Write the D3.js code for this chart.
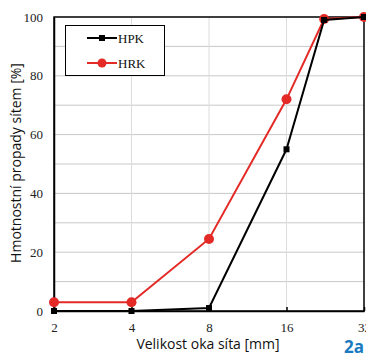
<!DOCTYPE html>
<html>
<head>
<meta charset="utf-8">
<script src="https://cdn.jsdelivr.net/npm/d3@7"></script>
<style>
  body { margin: 0; background: #fff; }
  svg { display: block; }
</style>
</head>
<body>
<div id="chart"></div>
<script>
// sieve sizes [mm] and passing [%]
const sizes = [2, 4, 8, 16, 22.4, 32];
const hpk = [0, 0, 1, 55, 99, 100];
const hrk = [3, 3, 24.5, 72, 99.3, 100];
const xTicks = [2, 4, 8, 16, 32];
const yTicks = [0, 20, 40, 60, 80, 100];
const yGrid = [10, 20, 30, 40, 50, 60, 70, 80, 90];
const seriesNames = ["HPK", "HRK"];

const width = 366, height = 354;
const plotL = 54, plotR = 364, plotT = 17, plotB = 311;

const svg = d3.select("#chart").append("svg")
  .attr("width", width)
  .attr("height", height);

const x = d3.scaleLog().base(2).domain([2, 32]).range([plotL, plotR]);
const y = d3.scaleLinear().domain([0, 100]).range([plotB, plotT]);

// grid
svg.append("g").selectAll("line")
  .data(yGrid).enter().append("line")
  .attr("x1", plotL).attr("x2", plotR)
  .attr("y1", d => y(d)).attr("y2", d => y(d))
  .attr("stroke", "#c8c8c8").attr("stroke-width", 1);

svg.append("g").selectAll("line")
  .data([4, 8, 16]).enter().append("line")
  .attr("x1", d => x(d)).attr("x2", d => x(d))
  .attr("y1", plotT).attr("y2", plotB)
  .attr("stroke", "#dcdcdc").attr("stroke-width", 1);

// frame
svg.append("rect")
  .attr("x", plotL).attr("y", plotT)
  .attr("width", plotR - plotL).attr("height", plotB - plotT)
  .attr("fill", "none").attr("stroke", "#000").attr("stroke-width", 1.5);

// axes
const xAxis = d3.axisBottom(x).tickValues(xTicks).tickFormat(d3.format("d")).tickSizeInner(-4).tickSizeOuter(0).tickPadding(12);
const gx = svg.append("g").attr("transform", `translate(0,${plotB})`).call(xAxis);
gx.select(".domain").attr("stroke", "#000").attr("stroke-width", 1.5);
gx.selectAll(".tick line").attr("stroke", "#000").attr("stroke-width", 1.5);

const yAxis = d3.axisLeft(y).tickValues(yTicks).tickSize(0).tickPadding(11);
const gy = svg.append("g").attr("transform", `translate(${plotL},0)`).call(yAxis);
gy.select(".domain").attr("stroke", "#000").attr("stroke-width", 1.5);

svg.selectAll(".tick text")
  .attr("font-family", "'Liberation Serif', 'Times New Roman', serif")
  .attr("font-size", 13)
  .attr("fill", "#222");

// axis titles
svg.append("text")
  .attr("x", 208).attr("y", 349)
  .attr("text-anchor", "middle")
  .attr("font-family", "'Open Sans', sans-serif")
  .attr("font-size", 14)
  .attr("fill", "#111")
  .text("Velikost oka síta [mm]");

svg.append("text")
  .attr("transform", `translate(21,163) rotate(-90)`)
  .attr("text-anchor", "middle")
  .attr("font-family", "'Open Sans', sans-serif")
  .attr("font-size", 14)
  .attr("fill", "#111")
  .text("Hmotnostní propady sítem [%]");

// series
const line = d3.line().x((d, i) => x(sizes[i])).y(d => y(d));
const colors = ["#000000", "#e42a27"];

svg.append("path").datum(hrk)
  .attr("d", line).attr("fill", "none")
  .attr("stroke", colors[1]).attr("stroke-width", 2);
svg.append("g").selectAll("circle")
  .data(hrk).enter().append("circle")
  .attr("cx", (d, i) => x(sizes[i])).attr("cy", d => y(d))
  .attr("r", 5).attr("fill", colors[1]);

svg.append("path").datum(hpk)
  .attr("d", line).attr("fill", "none")
  .attr("stroke", colors[0]).attr("stroke-width", 2);
svg.append("g").selectAll("rect")
  .data(hpk).enter().append("rect")
  .attr("x", (d, i) => x(sizes[i]) - 3).attr("y", d => y(d) - 3)
  .attr("width", 6).attr("height", 6).attr("fill", colors[0]);

// legend
const lg = svg.append("g");
lg.append("rect")
  .attr("x", 65.5).attr("y", 25.5).attr("width", 99).attr("height", 50)
  .attr("fill", "#fff").attr("stroke", "#000").attr("stroke-width", 1);
seriesNames.forEach((name, i) => {
  const ly = 38 + i * 25;
  lg.append("line")
    .attr("x1", 87).attr("x2", 117).attr("y1", ly).attr("y2", ly)
    .attr("stroke", colors[i]).attr("stroke-width", 2);
  if (i === 0) {
    lg.append("rect").attr("x", 99).attr("y", ly - 3).attr("width", 6).attr("height", 6).attr("fill", colors[i]);
  } else {
    lg.append("circle").attr("cx", 102).attr("cy", ly).attr("r", 4.5).attr("fill", colors[i]);
  }
  lg.append("text")
    .attr("x", 118).attr("y", ly + 4.5)
    .attr("font-family", "'Liberation Serif', 'Times New Roman', serif")
    .attr("font-size", 13)
    .attr("fill", "#111")
    .text(name);
});

// panel label
svg.append("text")
  .attr("x", 344).attr("y", 353)
  .attr("font-family", "'Open Sans', sans-serif")
  .attr("font-weight", "bold")
  .attr("font-size", 17)
  .attr("fill", "#1b7bc0")
  .text("2a");
</script>
</body>
</html>
